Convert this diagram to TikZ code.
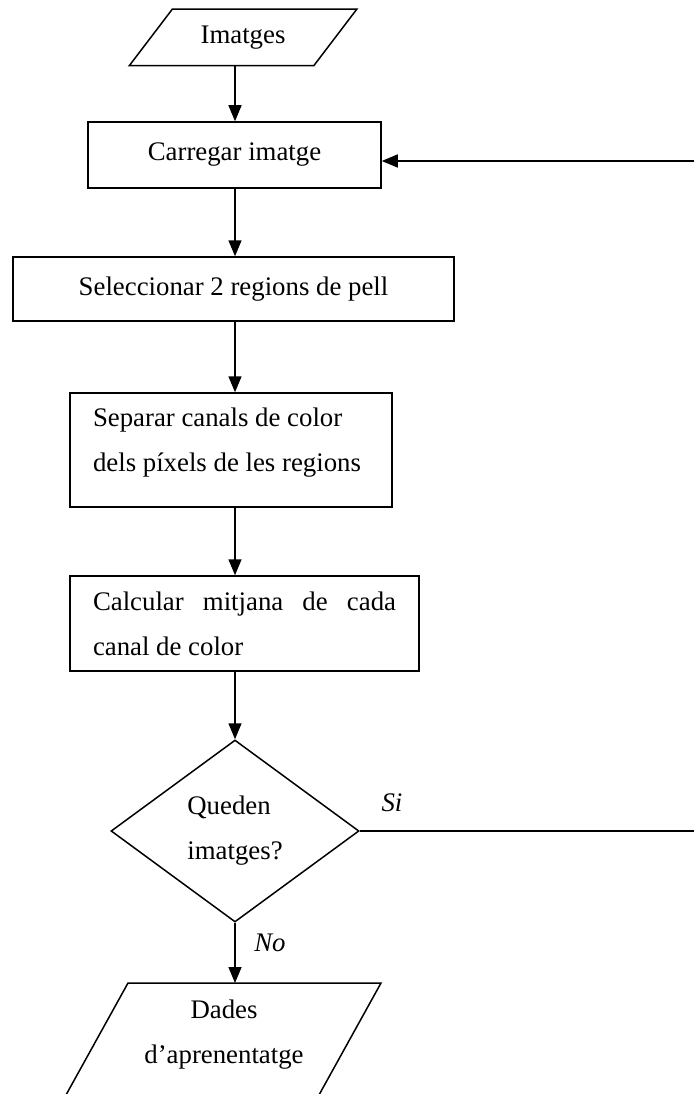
\documentclass[tikz,border=0pt]{standalone}
\usepackage{fontspec}
\setmainfont{Liberation Serif}
\usetikzlibrary{arrows.meta,shapes.geometric,calc}
\begin{document}
\begin{tikzpicture}[x=1pt,y=-1pt,
  line width=1.5pt,
  txt/.style={font=\fontsize{26.8}{45}\selectfont},
  procbox/.style={draw, txt, rectangle, inner xsep=23pt, inner ysep=0pt},
  io/.style={txt, inner sep=0pt, align=center},
  decision/.style={draw, txt, diamond, inner sep=0pt, align=left, aspect=1.36},
  flow/.style={-{Triangle[length=16pt,width=13pt]}},
  lbl/.style={font=\fontsize{26.8}{45}\selectfont\itshape, inner sep=0pt}]
\useasboundingbox (0,0) rectangle (693,1094);

% spine of the main flow
\coordinate (sp) at (235,0);

% input: images
\node[io, minimum width=226pt, minimum height=55pt] (im) at (243,37.5) {Imatges};
\draw ($(im.north west)+(43,0)$) -- (im.north east) -- ($(im.south east)-(43,0)$) -- (im.south west) -- cycle;

% processing steps
\node[procbox, minimum width=293pt, minimum height=66pt] (car) at (234.5,155) {Carregar imatge};
\node[procbox, minimum width=441pt, minimum height=64pt] (sel) at (233.5,289) {Seleccionar 2 regions de pell};
\node[procbox, minimum width=322pt, minimum height=114pt, align=left] (sep) at (231,450)
  {\hspace*{-8pt}\smash{\raisebox{4pt}{\begin{tabular}{@{}l@{}}Separar canals de color\\dels píxels de les regions\end{tabular}}}};
\node[procbox, minimum height=95pt, text width=303pt, align=justify] (cal) at (244.5,623.5)
  {Calcular mitjana de cada\linebreak canal de color};

% decision
\node[decision, minimum width=248pt, minimum height=182pt] (dq) at (235,831) {Queden\\imatges?};

% output: training data
\node[io] (dad) at (224,1035) {Dades\\d’aprenentatge};
\draw (128,983) -- (381,983) -- (309,1113) -- (56,1113) -- cycle;
\coordinate (dadin) at (235,983);

% connectors
\draw[flow] (im.south -| sp) -- (car.north -| sp);
\draw[flow] (car.south -| sp) -- (sel.north -| sp);
\draw[flow] (sel.south -| sp) -- (sep.north -| sp);
\draw[flow] (sep.south -| sp) -- (cal.north -| sp);
\draw[flow] (cal.south -| sp) -- (dq.north);
\draw[flow] (dq.south) -- (dadin);
\coordinate (rt) at (705,831);
\draw[flow] (dq.east) -- (rt) |- ([yshift=-6pt]car.east);

% branch labels
\node[lbl] (si) at (392,803) {Si};
\node[lbl] (no) at (270,943) {No};
\end{tikzpicture}
\end{document}
